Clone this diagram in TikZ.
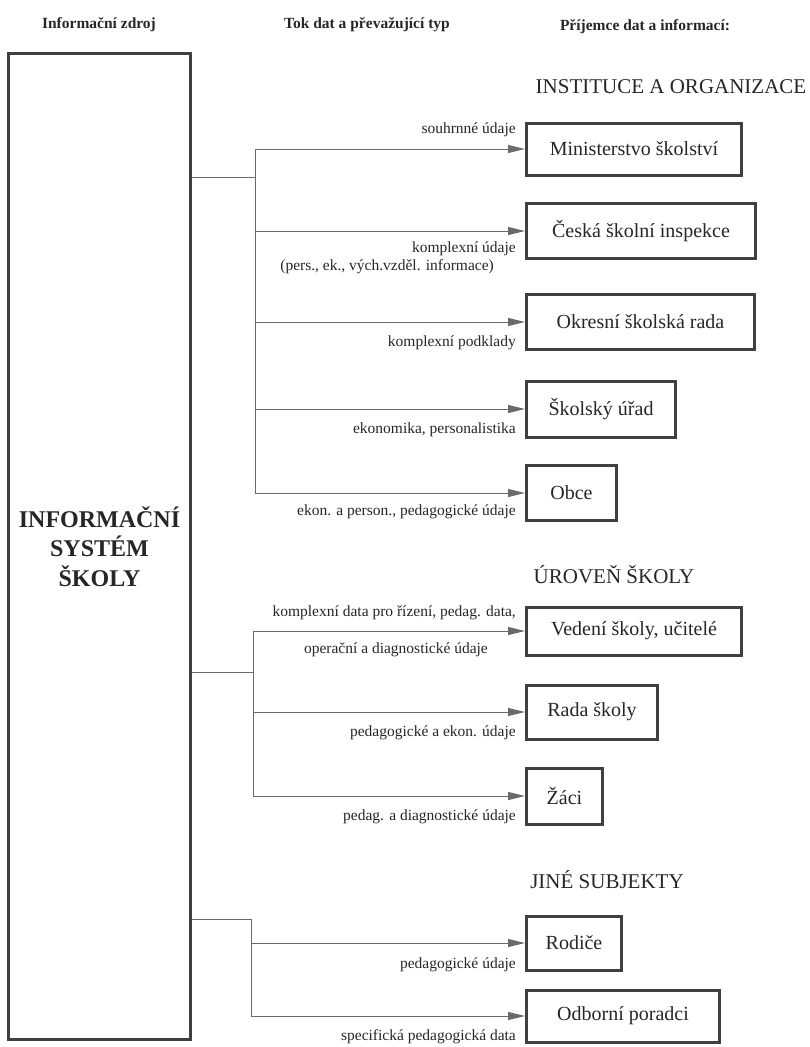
\documentclass[tikz,border=0pt]{standalone}
\usepackage{fontspec}
\setmainfont{Liberation Serif}
\usetikzlibrary{arrows.meta}

\definecolor{boxgray}{HTML}{404040}
\definecolor{linegray}{HTML}{6A6A6A}
\definecolor{inkgray}{HTML}{262626}

\tikzset{
  head/.style={text=inkgray, font=\fontsize{15.5}{18}\selectfont\bfseries},
  group/.style={text=inkgray, font=\fontsize{21}{24}\selectfont},
  source/.style={draw=boxgray, line width=3pt, align=center, text=inkgray,
    font=\fontsize{24}{29.5}\selectfont\bfseries},
  target/.style={draw=boxgray, line width=3pt, anchor=west, inner sep=0pt,
    text=inkgray, font=\fontsize{20}{24}\selectfont},
  lbl/.style={anchor=east, inner sep=0pt, text=inkgray,
    font=\fontsize{15.5}{18}\selectfont},
  link/.style={draw=linegray, line width=0.9pt},
  flow/.style={link, -{Triangle[length=17pt,width=8pt]}}
}

\begin{document}
\begin{tikzpicture}[x=1pt, y=-1pt]
  \useasboundingbox (0,0) rectangle (810,1047);
  % column heads
  \node[head] (h-src) at (99,25) {Informační zdroj};
  \node[head] (h-flow) at (367,25) {Tok dat a převažující typ};
  \node[head] (h-rcv) at (645,27) {Příjemce dat a informací:};
  % source
  \node[source, minimum width=182pt, minimum height=986pt] (iss) at (99.5,546.5)
    {INFORMAČNÍ\\SYSTÉM\\ŠKOLY};
  % receiver groups
  \node[group] (g-inst) at (671,87) {INSTITUCE A ORGANIZACE};
  \node[group] (g-skola) at (614,575) {ÚROVEŇ ŠKOLY};
  \node[group] (g-jine) at (607,880) {JINÉ SUBJEKTY};
  \foreach \nm/\y/\w/\h/\txt in {
      min/149/215/52/Ministerstvo školství, csi/231/229/55/Česká školní inspekce,
      osr/322/228/55/Okresní školská rada, su/409/149/56/Školský úřad,
      obce/493/90/55/Obce, ved/631/215/48/{Vedení školy, učitelé},
      rada/712/131/54/Rada školy, zaci/796/76/56/Žáci,
      rod/943/95/54/Rodiče, odb/1016/193/52/Odborní poradci}
    \node[target, minimum width=\w pt, minimum height=\h pt] (\nm) at (525,\y) {\txt};
  % branches
  \coordinate (j1) at (255,177);
  \coordinate (j2) at (253,672);
  \coordinate (j3) at (251,919);
  \foreach \j in {j1,j2,j3}
    \draw[link] (iss.east |- \j) -- (\j);
  \foreach \nm in {min,csi,osr,su,obce}
    \draw[flow] (j1) |- (\nm.west);
  \foreach \nm in {ved,rada,zaci}
    \draw[flow] (j2) |- (\nm.west);
  \foreach \nm in {rod,odb}
    \draw[flow] (j3) |- (\nm.west);
  % flow labels
  \foreach \nm/\y/\txt in {
      min/130/souhrnné údaje, csi/249/komplexní údaje,
      osr/343/komplexní podklady, su/430/{ekonomika, personalistika},
      obce/512/{ekon. a person., pedagogické údaje},
      ved/613/{komplexní data pro řízení, pedag. data,},
      rada/733/pedagogické a ekon. údaje, zaci/817/pedag. a diagnostické údaje,
      rod/965/pedagogické údaje, odb/1037/specifická pedagogická data}
    \node[lbl] (l-\nm) at (516,\y) {\txt};
  \node[lbl] (l-csi2) at (494,267) {(pers., ek., vých.vzděl. informace)};
  \node[lbl] (l-ved2) at (488,650) {operační a diagnostické údaje};
\end{tikzpicture}
\end{document}
